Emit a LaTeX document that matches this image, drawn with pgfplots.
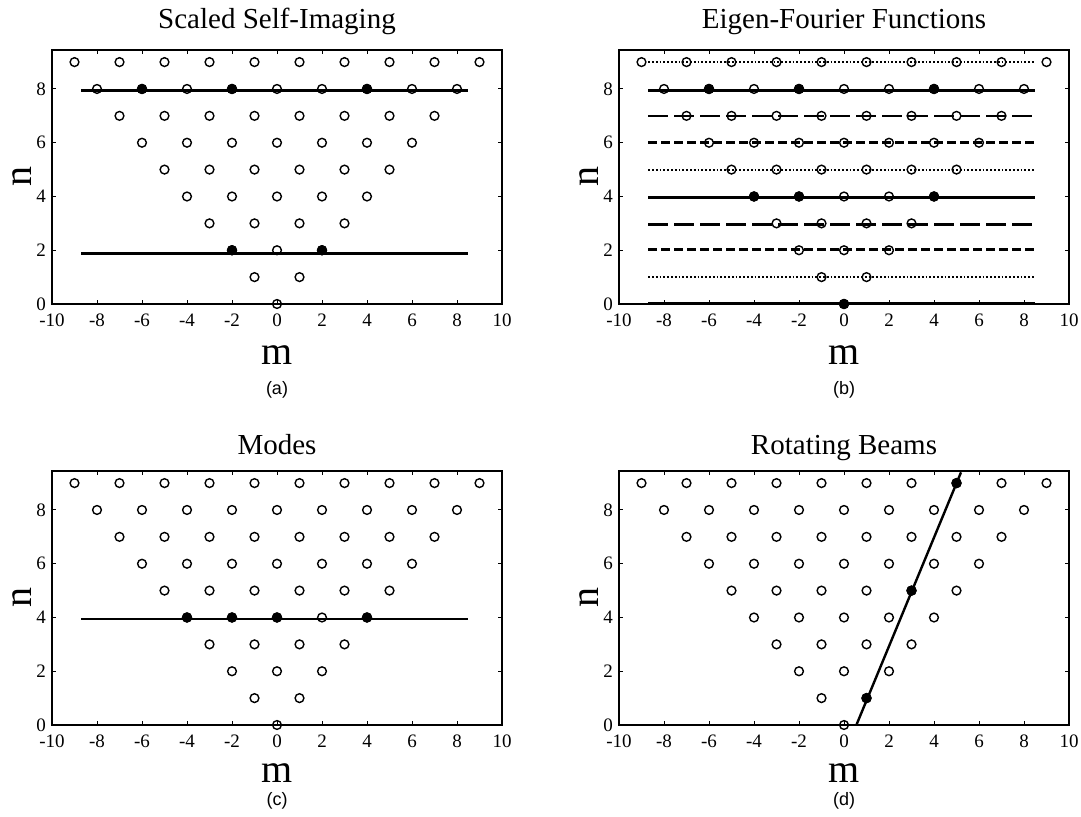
\documentclass[border=0pt]{standalone}
\usepackage{fontspec}
\setmainfont{Liberation Serif}
\setsansfont{Liberation Sans}
\usepackage{pgfplots}
\usepackage{pgfplotstable}
\pgfplotsset{compat=1.18}

% lattice of (m,n): n = 0..9, m = -n, -n+2, ..., n
\pgfplotstableread{
m n
0 0
-1 1
1 1
-2 2
0 2
2 2
-3 3
-1 3
1 3
3 3
-4 4
-2 4
0 4
2 4
4 4
-5 5
-3 5
-1 5
1 5
3 5
5 5
-6 6
-4 6
-2 6
0 6
2 6
4 6
6 6
-7 7
-5 7
-3 7
-1 7
1 7
3 7
5 7
7 7
-8 8
-6 8
-4 8
-2 8
0 8
2 8
4 8
6 8
8 8
-9 9
-7 9
-5 9
-3 9
-1 9
1 9
3 9
5 9
7 9
9 9
}\lattice

\pgfplotsset{
  panel/.style={
    scale only axis, width=225pt, height=127pt,
    xmin=-10, xmax=10, ymin=0, ymax=9.45,
    xtick={-10,-8,...,10}, ytick={0,2,4,6,8},
    tick align=inside, major tick length=2pt,
    axis line style={line width=0.8pt},
    every tick/.style={black, line width=0.5pt},
    tick label style={font=\fontsize{9.5}{10}\selectfont},
    xticklabel style={yshift=-1.5pt},
    yticklabel style={xshift=0.5pt},
    /pgf/number format/assume math mode=true,
    clip=false,
    xlabel=m, ylabel=n,
    xlabel style={font=\fontsize{20}{22}\selectfont, at={(axis description cs:0.5,-0.24)}, anchor=base},
    ylabel style={font=\fontsize{20}{22}\selectfont, at={(axis description cs:-0.046,0.5)}, anchor=base},
  },
  open/.style={only marks, mark=o, mark size=2.2pt, mark options={line width=0.7pt, black}},
  full/.style={only marks, mark=*, mark size=2.4pt, mark options={black, fill=black}},
  thick line/.style={black, line width=1.3pt, no marks},
  dots/.style={black, line width=0.9pt, no marks, dash pattern=on 0.9pt off 1pt},
  shortdash/.style={black, line width=1.3pt, no marks, dash pattern=on 4.5pt off 2pt},
  longdash/.style={black, line width=1.3pt, no marks, dash pattern=on 10pt off 3pt},
}
% #1 title, #2 its baseline, #3 caption, #4 caption centre (axis description units)
\newcommand{\paneltext}[4]{%
  \node[font=\fontsize{14.5}{16}\selectfont, anchor=base] at (rel axis cs:0.5,#2) {#1};
  \node[font=\sffamily\fontsize{9}{10}\selectfont] at (rel axis cs:0.5,#4) {#3};}

\begin{document}
\begin{tikzpicture}
\path[use as bounding box] (0,0) rectangle (540.5pt,408.5pt);

% (a)
\begin{axis}[panel, at={(26pt,256.5pt)}, anchor=south west]
  \addplot[thick line] coordinates {(-8.7,7.95) (8.5,7.95)};
  \addplot[thick line] coordinates {(-8.7,1.87) (8.5,1.87)};
  \addplot[open] table[x=m, y=n] {\lattice};
  \addplot[full] coordinates {(-6,8) (-2,8) (4,8) (-2,2) (2,2)};
  \paneltext{Scaled Self-Imaging}{1.085}{(a)}{-0.338}
\end{axis}

% (b)
\begin{axis}[panel, at={(309.5pt,256.5pt)}, anchor=south west]
  \addplot[dots] coordinates {(-8.7,9) (8.5,9)};
  \addplot[thick line] coordinates {(-8.7,7.95) (8.5,7.95)};
  \addplot[longdash] coordinates {(-8.7,7) (8.5,7)};
  \addplot[shortdash] coordinates {(-8.7,6) (8.5,6)};
  \addplot[dots] coordinates {(-8.7,5) (8.5,5)};
  \addplot[thick line] coordinates {(-8.7,3.97) (8.5,3.97)};
  \addplot[longdash] coordinates {(-8.7,2.95) (8.5,2.95)};
  \addplot[shortdash] coordinates {(-8.7,2.03) (8.5,2.03)};
  \addplot[dots] coordinates {(-8.7,1) (8.5,1)};
  \addplot[thick line] coordinates {(-8.7,0.03) (8.5,0.03)};
  \addplot[open] table[x=m, y=n] {\lattice};
  \addplot[full] coordinates {(-6,8) (-2,8) (4,8) (-4,4) (-2,4) (4,4) (0,0)};
  \paneltext{Eigen-Fourier Functions}{1.085}{(b)}{-0.338}
\end{axis}

% (c)
\begin{axis}[panel, at={(26pt,46pt)}, anchor=south west,
  xlabel style={at={(axis description cs:0.5,-0.227)}}]
  \addplot[thick line] coordinates {(-8.7,3.95) (8.5,3.95)};
  \addplot[open] table[x=m, y=n] {\lattice};
  \addplot[full] coordinates {(-4,4) (-2,4) (0,4) (4,4)};
  \paneltext{Modes}{1.065}{(c)}{-0.30}
\end{axis}

% (d)
\begin{axis}[panel, at={(309.5pt,46pt)}, anchor=south west,
  xlabel style={at={(axis description cs:0.5,-0.227)}}]
  \addplot[black, line width=1.2pt, no marks] coordinates {(0.55,0) (5.2,9.4)};
  \addplot[open] table[x=m, y=n] {\lattice};
  \addplot[full] coordinates {(1,1) (3,5) (5,9)};
  \paneltext{Rotating Beams}{1.065}{(d)}{-0.30}
\end{axis}
\end{tikzpicture}
\end{document}
